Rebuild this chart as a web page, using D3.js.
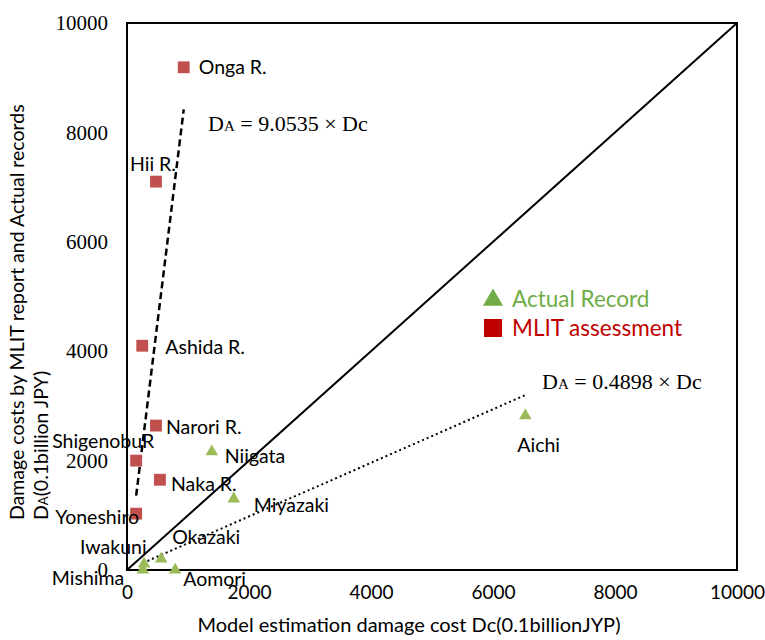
<!DOCTYPE html>
<html><head><meta charset="utf-8">
<script src="https://cdn.jsdelivr.net/npm/d3@7/dist/d3.min.js"></script>
<style>body{margin:0;background:#fff}svg{display:block}</style>
</head><body>
<script>
// ---- data ----
const mlitNames = ["Onga R.","Hii R.","Ashida R.","Narori R.","ShigenobuR","Naka R.","Yoneshiro"];
const mlitDc    = [930, 475, 250, 475, 150, 540, 150];
const mlitDa    = [9190, 7100, 4100, 2640, 2000, 1650, 1030];
const actualNames = ["Aichi","Niigata","Miyazaki","Okazaki","Iwakuni","Mishima","Aomori"];
const actualDc    = [6530, 1390, 1750, 560, 280, 260, 790];
const actualDa    = [2840, 2180, 1320, 220, 130, 20, 20];
const xTicks = [0, 2000, 4000, 6000, 8000, 10000];
const yTicks = [0, 2000, 4000, 6000, 8000, 10000];
const slopeMlit = 9.0535;
const slopeActual = 0.4898;
const legendLabels = ["Actual Record", "MLIT assessment"];

// ---- layout (label offsets in px) ----
const mlitLabelOff = [[15,7],[-26,-11],[23,8],[10,8],[-84,-13],[11,11],[-81,10]];
const actualLabelOff = [[-8,37],[13,12],[20,14],[11,-14],[-64,-9],[-91,16],[8,17]];

const W = 765, H = 640;
const m = {left:127, right:28, top:23, bottom:70};
const svg = d3.select("body").append("svg").attr("width",W).attr("height",H);
const x = d3.scaleLinear().domain([0,10000]).range([m.left, W-m.right]);
const y = d3.scaleLinear().domain([0,10000]).range([H-m.bottom, m.top]);

const sans = "Lato, 'Open Sans', sans-serif";
const serif = "'Liberation Serif', 'DejaVu Serif', serif";

// frame
svg.append("rect").attr("x",x(0)).attr("y",y(10000)).attr("width",x(10000)-x(0)).attr("height",y(0)-y(10000))
  .attr("fill","none").attr("stroke","#000").attr("stroke-width",2);

// axes
const xAxis = d3.axisBottom(x).tickValues(xTicks).tickSize(0).tickPadding(16).tickFormat(d3.format("d"));
const gx = svg.append("g").attr("transform",`translate(0,${y(0)})`).call(xAxis);
gx.select(".domain").remove();
gx.selectAll("text").attr("font-family",sans).attr("font-size",19).attr("fill","#000");
const yAxis = d3.axisLeft(y).tickValues(yTicks).tickSize(0).tickPadding(19).tickFormat(d3.format("d"));
const gy = svg.append("g").attr("transform",`translate(${x(0)},0)`).call(yAxis);
gy.select(".domain").remove();
gy.selectAll("text").attr("font-family",serif).attr("font-size",21).attr("fill","#000");

// diagonal y=x
svg.append("line").attr("x1",x(0)).attr("y1",y(0)).attr("x2",x(10000)).attr("y2",y(10000))
  .attr("stroke","#000").attr("stroke-width",2);

// trend lines
const mx0 = d3.min(mlitDc), mx1 = d3.max(mlitDc);
svg.append("line").attr("x1",x(mx0)).attr("y1",y(slopeMlit*mx0)).attr("x2",x(mx1)).attr("y2",y(slopeMlit*mx1))
  .attr("stroke","#000").attr("stroke-width",2.5).attr("stroke-dasharray","7,4");
const ax0 = d3.min(actualDc), ax1 = d3.max(actualDc);
svg.append("line").attr("x1",x(ax0)).attr("y1",y(slopeActual*ax0)).attr("x2",x(ax1)).attr("y2",y(slopeActual*ax1))
  .attr("stroke","#000").attr("stroke-width",2).attr("stroke-dasharray","2,3");

// markers
const sq = d3.symbol().type(d3.symbolSquare).size(140);
const tri = d3.symbol().type(d3.symbolTriangle).size(68);
mlitDc.forEach((d,i)=>{
  svg.append("path").attr("d",sq).attr("transform",`translate(${x(d)},${y(mlitDa[i])})`).attr("fill","#C0504D");
});
actualDc.forEach((d,i)=>{
  svg.append("path").attr("d",tri).attr("transform",`translate(${x(d)},${y(actualDa[i])+1})`).attr("fill","#9BBB59");
});

// point labels
mlitNames.forEach((n,i)=>{
  svg.append("text").attr("x",x(mlitDc[i])+mlitLabelOff[i][0]).attr("y",y(mlitDa[i])+mlitLabelOff[i][1])
    .attr("font-family",sans).attr("font-size",19.5).attr("fill","#000").text(n);
});
actualNames.forEach((n,i)=>{
  svg.append("text").attr("x",x(actualDc[i])+actualLabelOff[i][0]).attr("y",y(actualDa[i])+actualLabelOff[i][1])
    .attr("font-family",sans).attr("font-size",19.5).attr("fill","#000").text(n);
});

// equations
function eq(px,py,slope){
  const t = svg.append("text").attr("x",px).attr("y",py).attr("font-family",serif).attr("font-size",22).attr("fill","#000");
  t.append("tspan").text("D");
  t.append("tspan").attr("font-size",15).text("A");
  t.append("tspan").text(" = " + slope.toFixed(4) + " × Dc");
}
eq(208,131,slopeMlit);
eq(542,389,slopeActual);

// legend
svg.append("path").attr("d",d3.symbol().type(d3.symbolTriangle).size(175)).attr("transform","translate(493,300)").attr("fill","#70AD47");
svg.append("text").attr("x",512).attr("y",307).attr("font-family",sans).attr("font-size",22.5).attr("fill","#70AD47").text(legendLabels[0]);
svg.append("rect").attr("x",484).attr("y",319).attr("width",18).attr("height",18).attr("fill","#C00000");
svg.append("text").attr("x",512).attr("y",336).attr("font-family",sans).attr("font-size",22.5).attr("fill","#C00000").text(legendLabels[1]);

// axis titles
svg.append("text").attr("x",409).attr("y",632).attr("text-anchor","middle")
  .attr("font-family",sans).attr("font-size",20).attr("fill","#000").text("Model estimation damage cost Dc(0.1billionJYP)");
const yl = svg.append("text").attr("transform","translate(24,520) rotate(-90)")
  .attr("font-family",sans).attr("font-size",19.5).attr("fill","#000");
yl.append("tspan").attr("x",0).attr("y",0).text("Damage costs by MLIT report and Actual records");
const l2 = yl.append("tspan").attr("x",0).attr("y",24);
l2.append("tspan").text("D");
l2.append("tspan").attr("font-size",13).text("A");
l2.append("tspan").text("(0.1billion JPY)");
</script>
</body></html>
